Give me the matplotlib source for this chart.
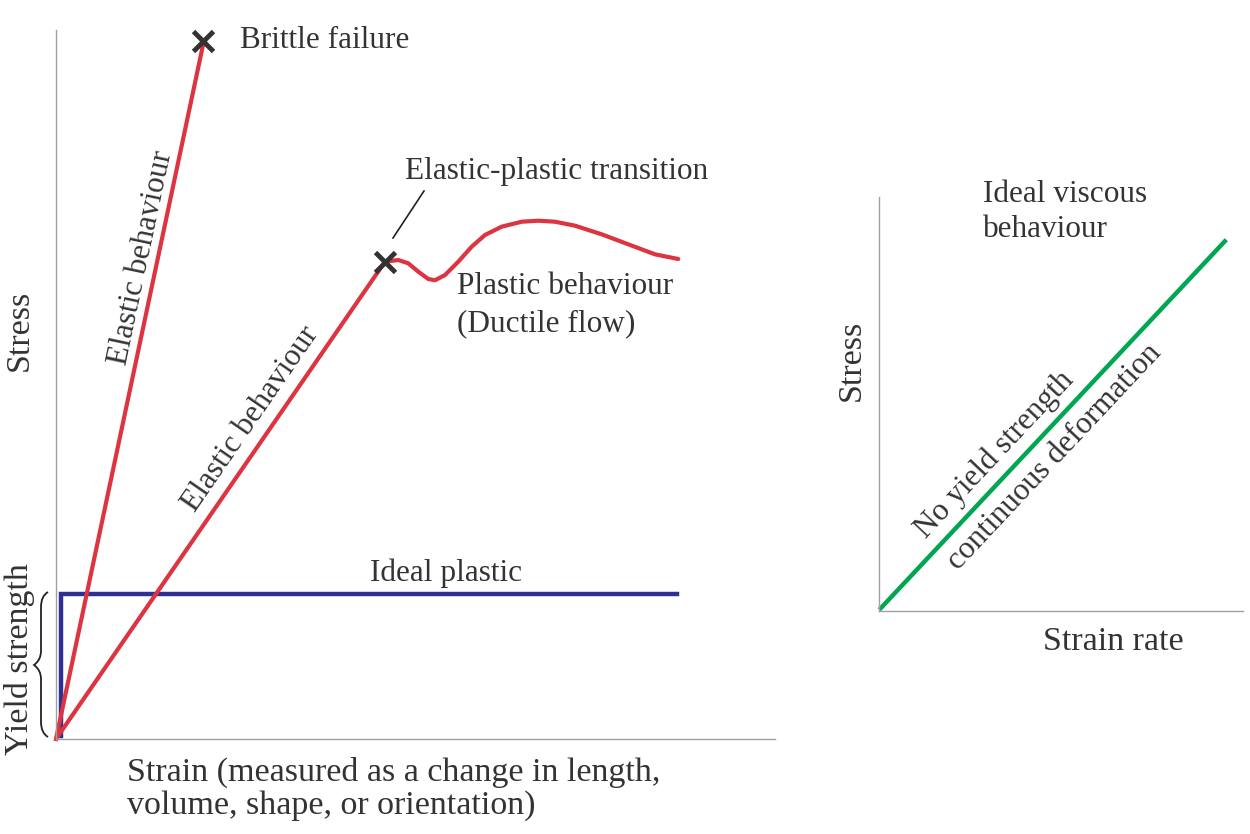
import matplotlib.pyplot as plt
from matplotlib.path import Path
from matplotlib.patches import PathPatch

# ===============================
# DATA (diagram units, 0-100)
# ===============================
brittle_strain = [0, 20.45]
brittle_stress = [0, 97.9]

ductile_strain = [0, 45.76, 47.61, 49.00, 50.39, 51.78, 52.71, 54.10, 55.95, 57.82, 59.67,
                  61.99, 64.77, 67.08, 69.40, 72.18, 75.90, 79.60, 83.31, 86.55]
ductile_stress = [0, 67.32, 67.56, 67.09, 65.91, 64.88, 64.70, 65.44, 67.32, 69.44, 71.09,
                  72.26, 72.96, 73.10, 72.96, 72.40, 71.18, 69.77, 68.36, 67.70]

plastic_strain = [0.7, 0.7, 86.4]
plastic_stress = [0.4, 20.5, 20.5]

viscous_rate = [0.5, 95.0]
viscous_stress = [0.7, 89.3]

RED = "#dc3440"
BLUE = "#2e3192"
GREEN = "#00a651"
TXT = "#333333"
AXC = "#a0a0a0"

plt.rcParams["font.family"] = ["Liberation Serif", "DejaVu Serif"]

W, H = 1250, 834
fig = plt.figure(figsize=(W / 100, H / 100), dpi=100)


def box(x0, y0, x1, y1):
    # pixel box (top-left origin) -> figure fraction
    return [x0 / W, 1 - y1 / H, (x1 - x0) / W, (y1 - y0) / H]


def px(x, y):
    return x / W, 1 - y / H


def style(ax):
    ax.set_xlim(0, 100)
    ax.set_ylim(0, 100)
    for s in ["top", "right"]:
        ax.spines[s].set_visible(False)
    for s in ["left", "bottom"]:
        ax.spines[s].set_color(AXC)
        ax.spines[s].set_linewidth(1.0)
    ax.set_xticks([])
    ax.set_yticks([])
    ax.patch.set_alpha(0)


fs = 22.5   # annotations
fl = 24.5   # axis labels

# ===============================
# LEFT PANEL
# ===============================
ax = fig.add_axes(box(56, 30, 775, 739))
style(ax)
ax.plot(plastic_strain, plastic_stress, color=BLUE, lw=3.2, solid_joinstyle="miter", clip_on=False)
ax.plot(brittle_strain, brittle_stress, color=RED, lw=3, clip_on=False)
ax.plot(ductile_strain, ductile_stress, color=RED, lw=3, clip_on=False,
        solid_joinstyle="round", solid_capstyle="round")
ax.plot([brittle_strain[-1]], [brittle_stress[-1] + 0.6], marker="x", ms=15, mew=3.5, color=TXT, clip_on=False)
ax.plot([ductile_strain[1]], [ductile_stress[1]], marker="x", ms=15, mew=3.5, color=TXT, clip_on=False)

# leader line to the transition label
fig.add_artist(plt.Line2D([393 / W, 424 / W], [1 - 238 / H, 1 - 191 / H], color="#222222", lw=1.2))

fig.text(*px(240, 40), "Brittle failure", fontsize=fs, color=TXT, va="center")
fig.text(*px(405, 172), "Elastic-plastic transition", fontsize=fs, color=TXT, va="center")
fig.text(*px(457, 286), "Plastic behaviour", fontsize=fs, color=TXT, va="center")
fig.text(*px(457, 324), "(Ductile flow)", fontsize=fs, color=TXT, va="center")
fig.text(*px(446, 573), "Ideal plastic", fontsize=fs, color=TXT, va="center", ha="center")
fig.text(*px(141, 258), "Elastic behaviour", fontsize=fs, color=TXT, va="center", ha="center",
         rotation=78, rotation_mode="anchor")
fig.text(*px(251, 419), "Elastic behaviour", fontsize=fs, color=TXT, va="center", ha="center",
         rotation=55.4, rotation_mode="anchor")
fig.text(*px(20, 330), "Stress", fontsize=fl, color=TXT, va="center", ha="center", rotation=90)
fig.text(*px(20, 659), "Yield strength", fontsize=fl, color=TXT, va="center", ha="center", rotation=90)
fig.text(*px(127, 772), "Strain (measured as a change in length,", fontsize=fl, color=TXT, va="center")
fig.text(*px(127, 806), "volume, shape, or orientation)", fontsize=fl, color=TXT, va="center")

# curly brace next to the yield strength label
bx = [48, 41, 41, 41, 41, 34, 41, 41, 41, 41, 48]
by = [592, 596, 607, 651, 660, 665, 670, 679, 722, 733, 737]
verts = [px(x, y) for x, y in zip(bx, by)]
codes = [Path.MOVETO, Path.CURVE3, Path.CURVE3, Path.LINETO, Path.CURVE3, Path.CURVE3,
         Path.CURVE3, Path.CURVE3, Path.LINETO, Path.CURVE3, Path.CURVE3]
fig.add_artist(PathPatch(Path(verts, codes), transform=fig.transFigure, fill=False,
                         lw=1.3, ec="#222222"))

# ===============================
# RIGHT PANEL
# ===============================
ax2 = fig.add_axes(box(879, 197, 1243, 611))
style(ax2)
ax2.plot(viscous_rate, viscous_stress, color=GREEN, lw=3.2, clip_on=False)

fig.text(*px(983, 194), "Ideal viscous", fontsize=fs, color=TXT, va="center")
fig.text(*px(983, 229), "behaviour", fontsize=fs, color=TXT, va="center")
fig.text(*px(852, 360), "Stress", fontsize=fl, color=TXT, va="center", ha="center", rotation=90)
fig.text(*px(1113, 642), "Strain rate", fontsize=fl, color=TXT, va="center", ha="center")
fig.text(*px(995, 455), "No yield strength", fontsize=fs, color=TXT, va="center", ha="center",
         rotation=46.8, rotation_mode="anchor")
fig.text(*px(1055, 457), "continuous deformation", fontsize=fs, color=TXT, va="center", ha="center",
         rotation=46.8, rotation_mode="anchor")

fig.savefig("out.png", dpi=100, facecolor="white")
